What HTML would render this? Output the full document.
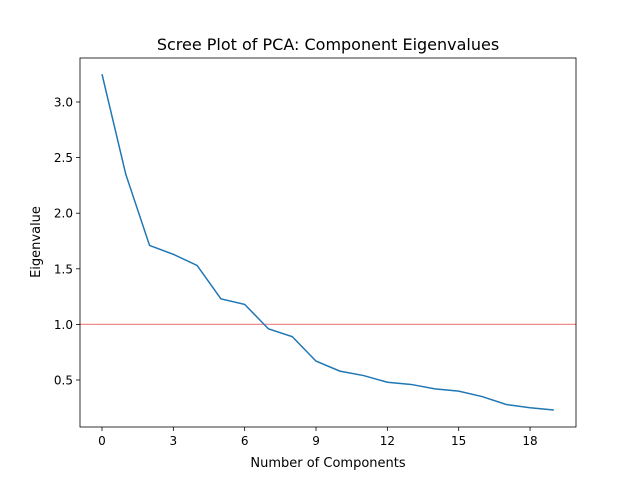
<!DOCTYPE html>
<html><head><meta charset="utf-8"><style>
body{margin:0;background:#fff}
svg{display:block;font-family:"DejaVu Sans","Liberation Sans",sans-serif}
</style></head><body>
<svg id="chart" width="640" height="480">
<rect width="640" height="480" fill="#fff"/>
<text x="328" y="50" text-anchor="middle" font-size="16">Scree Plot of PCA: Component Eigenvalues</text>
<g id="plot"></g>
<text x="328" y="467" text-anchor="middle" font-size="13">Number of Components</text>
<text transform="translate(40,242) rotate(-90)" text-anchor="middle" font-size="13">Eigenvalue</text>
</svg>
<script>
const components=[0,1,2,3,4,5,6,7,8,9,10,11,12,13,14,15,16,17,18,19];
const eigenvalues=[3.25,2.35,1.71,1.63,1.53,1.23,1.18,0.96,0.89,0.67,0.58,0.54,0.48,0.46,0.42,0.40,0.35,0.28,0.25,0.23];
const xTicks=[0,3,6,9,12,15,18];
const yTicks=[0.5,1.0,1.5,2.0,2.5,3.0];
const threshold=1.0;
const L=80,R=576,T=58,B=427;
const x=v=>102+(v-0)*23.78;
const y=v=>435.6-v*111.2;
const NS="http://www.w3.org/2000/svg";
const g=document.getElementById('plot');
function mk(t,a){const e=document.createElementNS(NS,t);for(const k in a)e.setAttribute(k,a[k]);g.appendChild(e);return e;}
xTicks.forEach(v=>{
  const l=mk('line',{x1:x(v),x2:x(v),y1:B,y2:B+4,stroke:'#000','stroke-width':0.8});
  
  
  const t=mk('text',{x:x(v),y:B+18,'text-anchor':'middle','font-size':12});
  t.textContent=v;
  
  
});
yTicks.forEach(v=>{
  const l=mk('line',{x1:L-4,x2:L,y1:y(v),y2:y(v),stroke:'#000','stroke-width':0.8});
  
  
  const t=mk('text',{x:L-7,y:y(v)+4.5,'text-anchor':'end','font-size':12});
  t.textContent=v.toFixed(1);
  
  
});
const th=mk('line',{x1:L,x2:R,y1:y(threshold),y2:y(threshold),stroke:'#f08080','stroke-width':1.2,opacity:0.9});


const p=mk('polyline',{points:components.map((c,i)=>x(c)+','+y(eigenvalues[i])).join(' '),fill:'none',stroke:'#1f77b4','stroke-width':1.5});


const fr=mk('rect',{x:L,y:T,width:R-L,height:B-T,fill:'none',stroke:'#000','stroke-width':0.8});


</script>
</body></html>
